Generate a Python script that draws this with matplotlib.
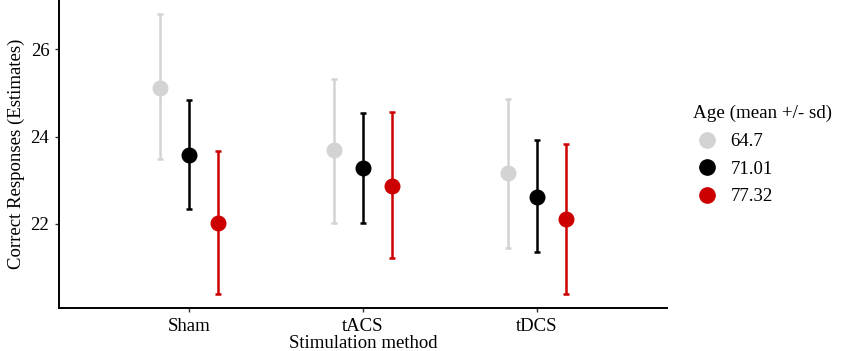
import matplotlib.pyplot as plt
from matplotlib.lines import Line2D
import numpy as np

plt.rcParams['font.family'] = ['Liberation Serif', 'DejaVu Serif']

methods = ['Sham', 'tACS', 'tDCS']
ages = ['64.7', '71.01', '77.32']
colors = ['#d3d3d3', '#000000', '#cc0000']

# estimates and lower/upper bounds, one list per age group (Sham, tACS, tDCS)
est = [[25.12, 23.69, 23.16],
       [23.58, 23.27, 22.62],
       [22.02, 22.86, 22.11]]
lower = [[23.48, 22.02, 21.45],
         [22.34, 22.02, 21.36],
         [20.39, 21.21, 20.39]]
upper = [[26.81, 25.33, 24.86],
         [24.83, 24.53, 23.91],
         [23.66, 24.57, 23.83]]

fig = plt.figure(figsize=(8.5, 3.51), dpi=100)
ax = fig.add_axes([0.0694, 0.1225, 0.7153, 0.8775])

x = np.arange(1, len(methods) + 1)
offsets = [-1/6, 0, 1/6]
for i in range(3):
    e = np.array(est[i])
    yerr = [e - np.array(lower[i]), np.array(upper[i]) - e]
    ax.errorbar(x + offsets[i], e, yerr=yerr, fmt='o', color=colors[i],
                ecolor=colors[i], elinewidth=1.8, capsize=2.5, capthick=1.8,
                markersize=10.5)

ax.set_xlim(0.25, 3.75)
ax.set_ylim(20.07, 27.13)
ax.set_xticks(x)
ax.set_xticklabels(methods)
ax.set_yticks([22, 24, 26])
ax.tick_params(labelsize=13.5, length=3, width=1, color='#333333', pad=4)
ax.spines['top'].set_visible(False)
ax.spines['right'].set_visible(False)
ax.spines['left'].set_linewidth(1.4)
ax.spines['bottom'].set_linewidth(1.4)
ax.set_xlabel('Stimulation method', fontsize=13.5, labelpad=0)
ax.set_ylabel('Correct Responses (Estimates)', fontsize=13.5, labelpad=4)

handles = [Line2D([], [], marker='o', linestyle='none', color=c,
                  markersize=11) for c in colors]
leg = ax.legend(handles, ages, title='Age (mean +/- sd)', loc='upper left',
                bbox_to_anchor=(1.027, 0.69), frameon=False, fontsize=13.5,
                title_fontsize=13.7, handletextpad=0.5, labelspacing=0.55,
                handlelength=1.5, borderpad=0)
leg._legend_box.align = 'left'
leg._legend_box.sep = 8

plt.savefig('out.png', dpi=100)
